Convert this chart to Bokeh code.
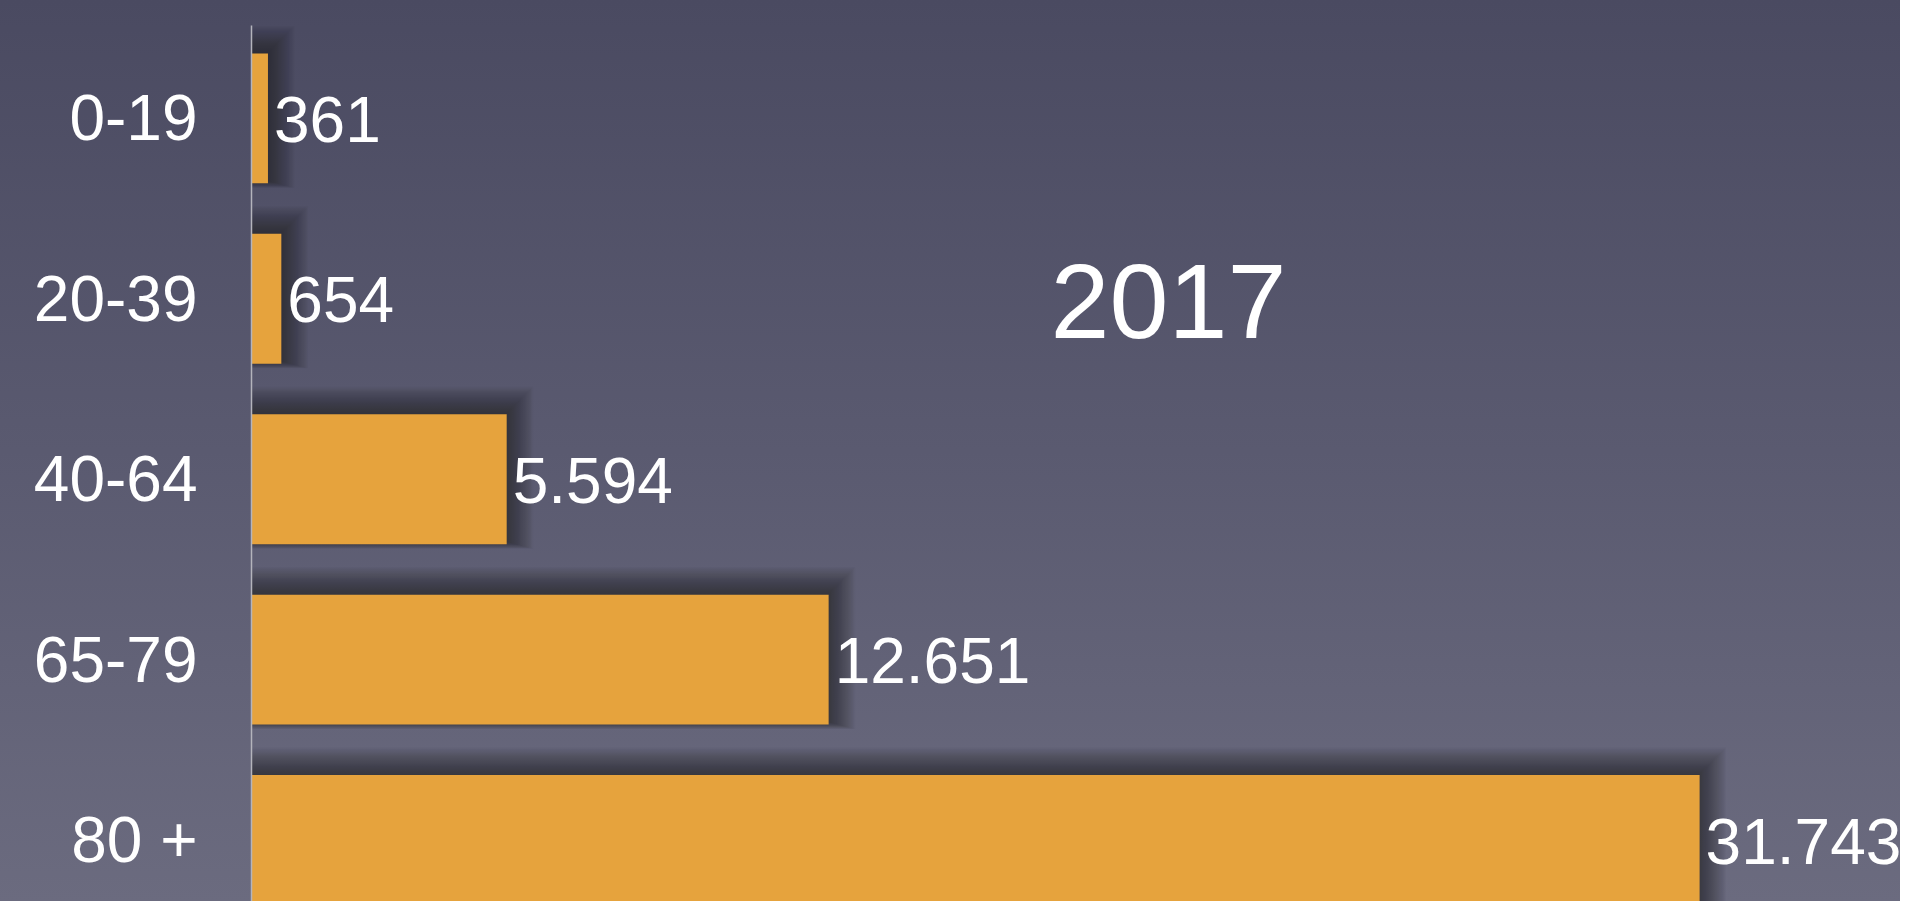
from bokeh.plotting import figure
from bokeh.models import Range1d, FixedTicker, Label
from bokeh.core.properties import value
from bokeh.embed import file_html
from bokeh.resources import INLINE

# ---- data ----
categories = ["0-19", "20-39", "40-64", "65-79", "80 +"]
deaths = [361, 654, 5594, 12651, 31743]
value_labels = ["361", "654", "5.594", "12.651", "31.743"]
year_label = "2017"

FONT = "Liberation Sans"
BAR_COLOR = "#E6A33D"

n = len(categories)
ypos = [n - 1 - i for i in range(n)]  # first category on top

W, H = 1900, 901
LEFT, TOP = 251, 25
frame_w = W - LEFT
frame_h = H - TOP
px_per_unit_x = 0.04562
x_end = frame_w / px_per_unit_x
y_top = 4.515
y_bot = y_top - frame_h / 180.4
px_per_unit_y = frame_h / (y_top - y_bot)

p = figure(width=W, height=H, output_backend="svg", toolbar_location=None,
           x_range=Range1d(0, x_end), y_range=Range1d(y_bot, y_top),
           min_border_left=LEFT, min_border_top=TOP, min_border_bottom=0,
           min_border_right=0)
p.styles = {"background-image": "linear-gradient(to bottom, #4A4A61 0%, #5A5A70 50%, #6B6B7F 100%)"}
p.background_fill_alpha = 0
p.border_fill_alpha = 0
p.outline_line_color = None
p.grid.visible = False
p.xaxis.visible = False

half = 0.36
# soft drop shadow (layered translucent quads), up and to the right
K = 26
for k in range(K):
    e = -8 + k * 1.1
    p.quad(left=[0] * n,
           right=[v + (7 + e) / px_per_unit_x for v in deaths],
           top=[y + half + (8 + e) / px_per_unit_y for y in ypos],
           bottom=[y - half + (3 - 0.3 * k) / px_per_unit_y for y in ypos],
           fill_color="#14141e", fill_alpha=0.032, line_color=None)

p.hbar(y=ypos, right=deaths, left=0, height=2 * half,
       fill_color=BAR_COLOR, line_color=None)

p.text(x=deaths, y=ypos, text=value_labels, x_offset=6, y_offset=1,
       text_font=value(FONT), text_font_size="64px", text_color="white",
       text_align="left", text_baseline="alphabetic")

yax = p.yaxis[0]
yax.ticker = FixedTicker(ticks=ypos)
yax.major_label_overrides = {y: c for y, c in zip(ypos, categories)}
yax.major_label_text_font = FONT
yax.major_label_text_font_size = "64px"
yax.major_label_text_color = "white"
yax.major_label_standoff = 54
yax.major_tick_line_color = None
yax.minor_tick_line_color = None
yax.major_tick_out = 0
yax.major_tick_in = 0
yax.axis_line_color = "#B4B4BC"
yax.axis_line_width = 1.5

p.add_layout(Label(x=20100, y=2.985, text=year_label, text_font=FONT,
                   text_font_size="106px", text_color="white",
                   text_align="center", text_baseline="alphabetic"))

open("out.html", "w").write(file_html(p, INLINE))
